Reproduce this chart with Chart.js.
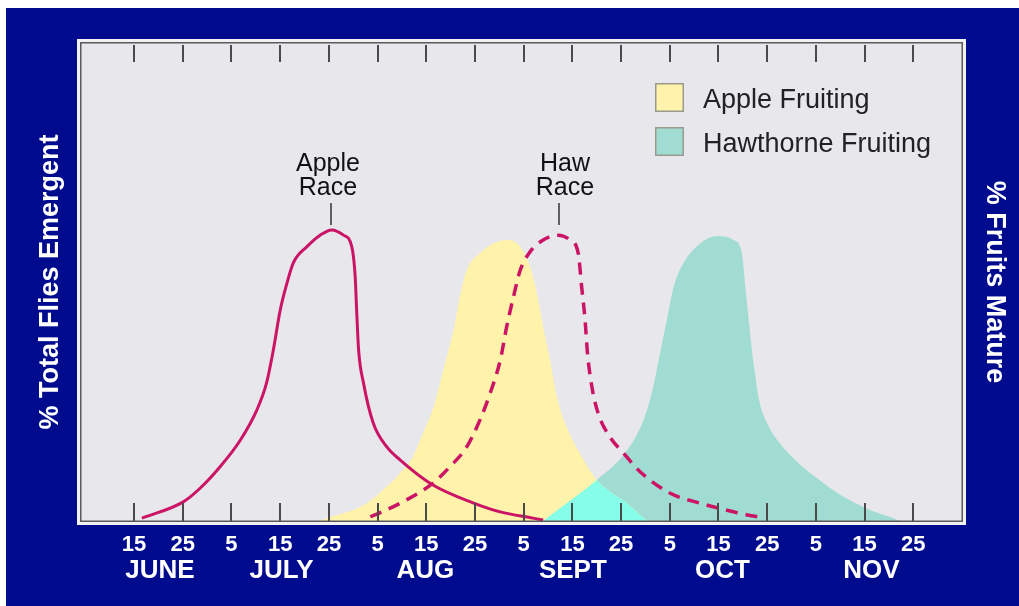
<!DOCTYPE html>
<html>
<head>
<meta charset="utf-8">
<script src="https://cdn.jsdelivr.net/npm/chart.js@4/dist/chart.umd.min.js"></script>
<style>
  html, body { margin: 0; padding: 0; background: #ffffff; }
  #wrap { width: 1019px; height: 606px; position: relative; }
</style>
</head>
<body>
<div id="wrap"><canvas id="c"></canvas></div>
<script>
// ---- Data (x = days after June 15; y = relative %) ----
const tickDays   = [0,10,20,30,40,50,60,70,80,90,100,110,120,130,140,150,160];
const tickLabels = ['15','25','5','15','25','5','15','25','5','15','25','5','15','25','5','15','25'];
const monthPos    = [5.3, 30.3, 59.8, 90.1, 120.8, 151.4];
const monthLabels = ['JUNE','JULY','AUG','SEPT','OCT','NOV'];

const appleRaceDays = [1.6,10.1,13.6,17.7,21.8,25.2,27.2,28.6,30.0,31.4,32.7,35.5,38.2,40.6,43.0,44.7,45.4,45.7,46.1,47.1,49.1,51.9,54.6,61.1,69.6,75.2,81.9,84.0];
const appleRaceVals = [0.6,4.0,6.9,11.4,16.9,23.2,28.9,35.8,44.1,49.8,54.0,57.4,59.8,60.9,59.8,57.4,51.1,44.1,35.8,28.9,20.5,15.5,12.8,7.7,3.8,1.9,0.6,0.2];

const hawRaceDays = [48.5,50.2,54.6,61.1,64.9,68.3,71.0,73.1,75.2,76.5,77.9,79.3,81.3,84.0,87.1,89.5,91.2,91.9,92.6,93.1,94.0,95.3,97.7,100.5,103.9,110.1,116.3,120.0,124.4,129.5];
const hawRaceVals = [0.9,1.6,3.7,7.7,11.4,15.5,21.1,26.7,33.7,40.6,46.9,52.5,56.3,58.8,59.8,58.8,56.0,49.0,42.1,35.1,28.1,22.5,17.6,14.2,10.3,5.8,3.7,2.7,1.6,0.6];

const appleFruitDays = [38.2,39.6,45.0,47.8,51.9,54.6,57.3,58.7,61.5,63.5,65.6,66.9,68.3,71.0,73.8,76.5,79.3,81.3,82.7,84.0,85.4,86.8,88.8,92.3,95.0,101.2,105.3];
const appleFruitVals = [0.0,0.6,2.3,3.7,7.2,10.0,13.5,16.9,23.9,31.6,40.0,46.9,52.5,56.0,58.1,58.8,57.4,53.2,47.6,40.6,33.7,26.0,19.7,12.8,8.6,3.7,0.0];

const hawFruitDays = [84.0,88.8,95.0,100.5,104.6,106.6,108.0,109.4,110.8,112.8,116.3,119.7,123.1,124.8,125.5,126.2,127.2,128.4,130.2,132.8,136.0,139.5,145.6,151.1,155.9,157.3];
const hawFruitVals = [0.0,3.7,8.6,13.8,21.1,28.1,35.1,42.1,49.0,53.9,58.1,59.6,58.8,56.0,49.0,42.1,33.0,25.0,20.0,16.0,12.5,9.5,5.1,2.3,0.6,0.0];

const legendLabels = ['Apple Fruiting','Hawthorne Fruiting'];
const annotations = [
  { text: ['Apple','Race'], day: 40.5, dx: -3 },
  { text: ['Haw','Race'],   day: 87.3, dx: 6 }
];

const BLUE = '#000b8e';
const YELLOW = '#fff2aa';
const TEAL = '#a0dcd1';
const CYAN = '#86fde9';
const MAGENTA = '#cc1467';
const FONT = '"Liberation Sans", Arial, Helvetica, sans-serif';

const pts = (xs, ys) => xs.map((x, i) => ({ x: x, y: ys[i] }));

const bgPlugin = {
  id: 'bgPlugin',
  beforeDraw(chart) {
    const { ctx, width, height, chartArea: a } = chart;
    ctx.save();
    ctx.fillStyle = '#ffffff';
    ctx.fillRect(0, 0, width, height);
    ctx.fillStyle = BLUE;
    ctx.fillRect(6, 8, width - 6, height - 8);
    ctx.fillStyle = '#e7e7ec';
    ctx.fillRect(a.left, a.top, a.right - a.left, a.bottom - a.top);
    ctx.restore();
  }
};

const overlapPlugin = {
  id: 'overlapPlugin',
  afterDatasetDraw(chart, args) {
    if (args.index !== 2) return;
    const ctx = chart.ctx;
    const base = chart.scales.y.getPixelForValue(0);
    const a = chart.chartArea;
    const area = (meta) => {
      const p = meta.data;
      ctx.beginPath();
      meta.dataset.path(ctx);
      ctx.lineTo(p[p.length - 1].x, base);
      ctx.lineTo(p[0].x, base);
      ctx.closePath();
    };
    ctx.save();
    ctx.beginPath();
    ctx.rect(a.left, a.top, a.right - a.left, a.bottom - a.top);
    ctx.clip();
    area(chart.getDatasetMeta(2));
    ctx.clip();
    area(chart.getDatasetMeta(3));
    ctx.fillStyle = CYAN;
    ctx.fill();
    ctx.restore();
  }
};

const framePlugin = {
  id: 'framePlugin',
  afterDatasetsDraw(chart) {
    const { ctx, chartArea: a, scales } = chart;
    ctx.save();
    // ticks
    ctx.strokeStyle = '#4a4a4a';
    ctx.lineWidth = 2;
    tickDays.forEach(d => {
      const x = Math.round(scales.x.getPixelForValue(d));
      ctx.beginPath();
      ctx.moveTo(x, a.top + 2); ctx.lineTo(x, a.top + 19);
      ctx.moveTo(x, a.bottom - 18); ctx.lineTo(x, a.bottom);
      ctx.stroke();
    });
    // frame: light outer, dark inner
    ctx.strokeStyle = '#f2f2f2';
    ctx.lineWidth = 3;
    ctx.strokeRect(a.left - 2.5, a.top - 2.5, a.right - a.left + 5, a.bottom - a.top + 5);
    ctx.strokeStyle = '#5a5a5a';
    ctx.lineWidth = 1.5;
    ctx.strokeRect(a.left - 0.25, a.top - 0.25, a.right - a.left + 0.5, a.bottom - a.top + 0.5);
    // legend
    const lx = 655, ly = [83, 127];
    const cols = [YELLOW, TEAL];
    ctx.font = '27px ' + FONT;
    ctx.textBaseline = 'middle';
    ctx.textAlign = 'left';
    legendLabels.forEach((t, i) => {
      ctx.fillStyle = cols[i];
      ctx.fillRect(lx, ly[i], 29, 29);
      ctx.strokeStyle = '#9a9a8c';
      ctx.lineWidth = 1.5;
      ctx.strokeRect(lx + 0.75, ly[i] + 0.75, 27.5, 27.5);
      ctx.fillStyle = '#222222';
      ctx.fillText(t, 703, ly[i] + 18);
    });
    // annotations
    ctx.font = '25px ' + FONT;
    ctx.textAlign = 'center';
    annotations.forEach(an => {
      const x = Math.round(scales.x.getPixelForValue(an.day));
      ctx.fillStyle = '#111111';
      ctx.fillText(an.text[0], x + an.dx, 164);
      ctx.fillText(an.text[1], x + an.dx, 188);
      ctx.strokeStyle = '#333333';
      ctx.lineWidth = 1.5;
      ctx.beginPath();
      ctx.moveTo(x, 203); ctx.lineTo(x, 225);
      ctx.stroke();
    });
    ctx.restore();
  }
};

new Chart(document.getElementById('c'), {
  type: 'line',
  data: {
    datasets: [
      { label: 'Apple Race', data: pts(appleRaceDays, appleRaceVals), borderColor: MAGENTA, borderWidth: 3,
        pointRadius: 0, fill: false, cubicInterpolationMode: 'monotone' },
      { label: 'Haw Race', data: pts(hawRaceDays, hawRaceVals), borderColor: MAGENTA, borderWidth: 3.5,
        borderDash: [12, 8], pointRadius: 0, fill: false, cubicInterpolationMode: 'monotone' },
      { label: 'Apple Fruiting', data: pts(appleFruitDays, appleFruitVals), borderWidth: 0, borderColor: 'rgba(0,0,0,0)',
        backgroundColor: YELLOW, pointRadius: 0, fill: 'origin', cubicInterpolationMode: 'monotone' },
      { label: 'Hawthorne Fruiting', data: pts(hawFruitDays, hawFruitVals), borderWidth: 0, borderColor: 'rgba(0,0,0,0)',
        backgroundColor: TEAL, pointRadius: 0, fill: 'origin', cubicInterpolationMode: 'monotone' }
    ]
  },
  options: {
    responsive: true,
    maintainAspectRatio: false,
    animation: false,
    layout: { padding: { top: 43, left: 0, right: 0, bottom: 0 } },
    plugins: { legend: { display: false }, tooltip: { enabled: false } },
    scales: {
      x: {
        type: 'linear', position: 'bottom', min: -10.9, max: 170,
        grid: { display: false }, border: { display: false },
        afterBuildTicks: (s) => { s.ticks = tickDays.map(v => ({ value: v })); },
        afterFit: (s) => { s.height = 35; },
        ticks: {
          autoSkip: false, maxRotation: 0, padding: 3, color: '#ffffff',
          font: { family: FONT, size: 22, weight: 'bold' },
          callback: (v, i) => tickLabels[i]
        }
      },
      x2: {
        type: 'linear', position: 'bottom', min: -10.9, max: 170,
        grid: { display: false }, border: { display: false },
        afterBuildTicks: (s) => { s.ticks = monthPos.map(v => ({ value: v })); },
        afterFit: (s) => { s.height = 50; },
        ticks: {
          autoSkip: false, maxRotation: 0, padding: -9, color: '#ffffff',
          font: { family: FONT, size: 26, weight: 'bold' },
          callback: (v, i) => monthLabels[i]
        }
      },
      y: {
        position: 'left', min: 0, max: 100,
        grid: { display: false }, border: { display: false },
        ticks: { display: false },
        afterFit: (s) => { s.width = 81; },
        title: { display: true, text: '% Total Flies Emergent', color: '#ffffff',
          font: { family: FONT, size: 27, weight: 'bold' }, padding: { top: 34, bottom: 0 } }
      },
      y2: {
        position: 'right', min: 0, max: 100,
        grid: { display: false }, border: { display: false },
        ticks: { display: false },
        afterFit: (s) => { s.width = 57; },
        title: { display: true, text: '% Fruits Mature', color: '#ffffff',
          font: { family: FONT, size: 27, weight: 'bold' }, padding: { top: 8, bottom: 0 } }
      }
    }
  },
  plugins: [bgPlugin, overlapPlugin, framePlugin]
});
</script>
</body>
</html>
